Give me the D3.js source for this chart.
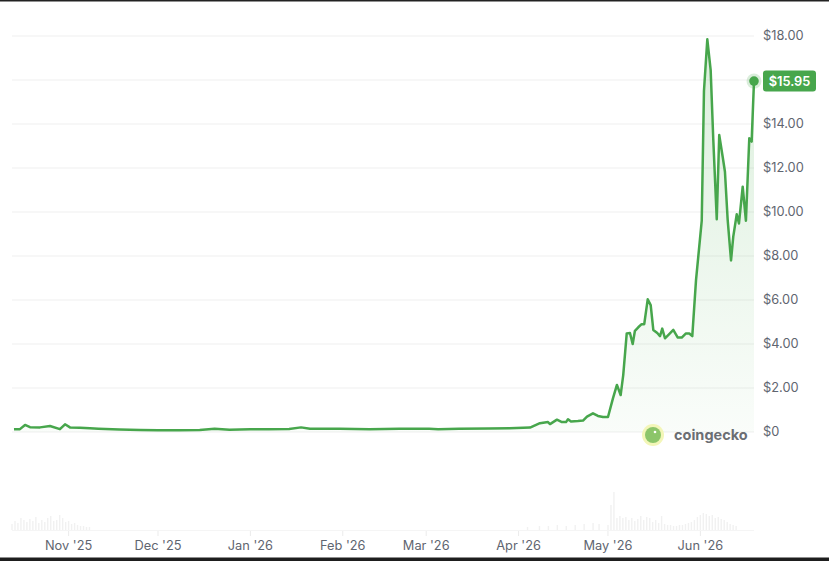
<!DOCTYPE html>
<html><head><meta charset="utf-8">
<script src="https://cdn.jsdelivr.net/npm/d3@7"></script>
<style>html,body{margin:0;padding:0;background:#fff;overflow:hidden}svg{display:block}</style>
</head><body>
<svg id="chart" width="829" height="561"></svg>
<script>
// ---------- DATA ----------
const priceDates = [
"2025-10-13T16","2025-10-15T16","2025-10-17T09","2025-10-19T01","2025-10-22T10","2025-10-25T18","2025-10-29T02","2025-10-30T19",
"2025-11-01T11","2025-11-04T19","2025-11-08T04","2025-11-11T00","2025-11-18T00","2025-11-25T00","2025-12-01T00","2025-12-08T00",
"2025-12-15T00","2025-12-20T00","2025-12-25T00","2026-01-01T00","2026-01-07T00","2026-01-14T00","2026-01-18T00","2026-01-21T00",
"2026-01-31T00","2026-02-10T00","2026-02-20T00","2026-03-02T00","2026-03-05T00","2026-03-12T00","2026-03-22T00","2026-03-29T00",
"2026-04-04T20","2026-04-08T04","2026-04-10T21","2026-04-11T13","2026-04-13T21","2026-04-15T13","2026-04-16T22","2026-04-17T14",
"2026-04-18T14","2026-04-20T22","2026-04-22T15","2026-04-23T23","2026-04-25T23","2026-04-27T15","2026-04-29T08","2026-05-01T00",
"2026-05-02T16","2026-05-04T00","2026-05-05T06","2026-05-06T03","2026-05-07T07","2026-05-08T09","2026-05-09T07","2026-05-10T01",
"2026-05-11T04","2026-05-12T07","2026-05-13T04","2026-05-14T08","2026-05-15T08","2026-05-16T05","2026-05-17T13","2026-05-18T11",
"2026-05-19T05","2026-05-20T03","2026-05-21T11","2026-05-22T22","2026-05-24T09","2026-05-25T18","2026-05-27T04","2026-05-28T07",
"2026-05-29T07","2026-05-30T13","2026-06-01T11","2026-06-02T05","2026-06-03T08","2026-06-04T11","2026-06-05T08","2026-06-06T12",
"2026-06-07T08","2026-06-08T12","2026-06-09T06","2026-06-10T04","2026-06-11T07","2026-06-12T01","2026-06-13T05","2026-06-13T23",
"2026-06-15T05","2026-06-16T07","2026-06-17T10","2026-06-18T05","2026-06-19T00"
];
const priceValues = [
0.12,0.13,0.32,0.22,0.21,0.27,0.13,0.35,
0.21,0.19,0.17,0.15,0.11,0.09,0.08,0.08,
0.09,0.15,0.10,0.12,0.13,0.14,0.21,0.15,
0.15,0.13,0.15,0.15,0.13,0.15,0.16,0.17,
0.20,0.40,0.45,0.36,0.56,0.45,0.45,0.58,
0.48,0.50,0.52,0.70,0.85,0.73,0.68,0.68,
1.53,2.14,1.68,2.60,4.48,4.50,4.00,4.60,
4.76,4.90,4.90,6.03,5.77,4.64,4.50,4.36,
4.70,4.26,4.44,4.64,4.30,4.29,4.48,4.48,
4.36,6.90,9.60,15.50,17.85,16.45,13.30,9.67,
13.50,12.50,11.83,9.64,7.80,8.88,9.90,9.48,
11.15,9.60,13.35,13.20,15.95
];
const volumeDates = [
"2025-10-13","2025-10-14","2025-10-15","2025-10-16","2025-10-17","2025-10-18","2025-10-19","2025-10-20","2025-10-21",
"2025-10-22","2025-10-23","2025-10-24","2025-10-25","2025-10-26","2025-10-27","2025-10-28","2025-10-29","2025-10-30",
"2025-10-31","2025-11-01","2025-11-02","2025-11-03","2025-11-04","2025-11-05","2025-11-06","2025-11-07","2025-11-08",
"2026-04-04","2026-04-08","2026-04-11","2026-04-14","2026-04-17","2026-04-20","2026-04-23","2026-04-26","2026-04-28",
"2026-05-01","2026-05-02","2026-05-03","2026-05-04","2026-05-05","2026-05-06","2026-05-07","2026-05-08","2026-05-09",
"2026-05-10","2026-05-11","2026-05-12","2026-05-13","2026-05-14","2026-05-15","2026-05-16","2026-05-17","2026-05-18",
"2026-05-19","2026-05-20","2026-05-21","2026-05-22","2026-05-23","2026-05-24","2026-05-25","2026-05-26","2026-05-27",
"2026-05-28","2026-05-29","2026-05-30","2026-05-31","2026-06-01","2026-06-02","2026-06-03","2026-06-04","2026-06-05",
"2026-06-06","2026-06-07","2026-06-08","2026-06-09","2026-06-10","2026-06-11","2026-06-12","2026-06-13"
];
const volumeValues = [
0.6,0.9,0.7,1.2,1.0,0.8,1.1,0.9,1.3,
0.7,1.0,0.8,1.2,1.4,0.9,1.0,1.5,1.2,
0.8,0.9,0.6,0.7,0.5,0.4,0.4,0.3,0.3,
0.3,0.4,0.4,0.5,0.4,0.5,0.6,0.7,0.6,
0.5,2.5,3.8,1.2,1.4,1.2,1.3,1.0,1.2,
0.9,1.1,1.4,1.0,1.3,1.2,0.8,1.0,0.7,
1.4,0.6,0.5,0.5,0.4,0.4,0.5,0.5,0.6,
0.7,0.8,1.0,1.3,1.5,1.7,1.6,1.4,1.5,
1.2,1.3,1.1,1.0,0.8,0.6,0.5,0.4
];
const yTickValues = [0,2,4,6,8,10,12,14,16,18];
const monthTickDates = ["2025-11-01","2025-12-01","2026-01-01","2026-02-01","2026-03-01","2026-04-01","2026-05-01","2026-06-01"];
const monthTickLabels = ["Nov '25","Dec '25","Jan '26","Feb '26","Mar '26","Apr '26","May '26","Jun '26"];
const lastPrice = 15.95;
const brandName = "coingecko";

// ---------- CHART ----------
const parseH = d3.timeParse("%Y-%m-%dT%H");
const parseD = d3.timeParse("%Y-%m-%d");
const price = priceDates.map((d,i)=>({date:parseH(d), v:priceValues[i]}));
const volume = volumeDates.map((d,i)=>({date:parseD(d), v:volumeValues[i]}));

const svg = d3.select("#chart");
const green = "#47a64c";
const textCol = "#5f6570";
const font = "Inter, 'Noto Sans', sans-serif";

const x = d3.scaleTime()
  .domain([parseH("2025-10-13T00"), parseH("2026-06-19T00")])
  .range([12, 754]);
const y = d3.scaleLinear().domain([0,18]).range([432,36]);
const yv = d3.scaleLinear().domain([0,4]).range([530,490]);

// black frame bands
svg.append("rect").attr("x",0).attr("y",0).attr("width",829).attr("height",1.5).attr("fill","#222");
svg.append("rect").attr("x",0).attr("y",557.5).attr("width",829).attr("height",3.5).attr("fill","#1e1e1e");

// gridlines
svg.append("g").selectAll("line").data(yTickValues).join("line")
  .attr("x1",12).attr("x2",754)
  .attr("y1",d=>y(d)).attr("y2",d=>y(d))
  .attr("stroke","#efefef").attr("stroke-width",1.2);

// y labels (right)
svg.append("g").selectAll("text").data(yTickValues.filter(d=>d!==16)).join("text")
  .attr("x",763).attr("y",d=>y(d)).attr("dy","0.35em")
  .attr("font-family",font).attr("font-size",12.8).attr("fill",textCol)
  .text(d=> d===0 ? "$0" : "$"+d.toFixed(2));

// volume bars
svg.append("g").selectAll("rect").data(volume).join("rect")
  .attr("x",d=>x(d.date)-0.7).attr("width",1.4)
  .attr("y",d=>yv(d.v)).attr("height",d=>yv(0)-yv(d.v))
  .attr("fill","#f1f1f1");
svg.append("line").attr("x1",12).attr("x2",754).attr("y1",530.5).attr("y2",530.5)
  .attr("stroke","#f5f5f5");

// month ticks + labels
const months = monthTickDates.map(parseD);
svg.append("g").selectAll("line").data(months).join("line")
  .attr("x1",d=>x(d)).attr("x2",d=>x(d)).attr("y1",531).attr("y2",536)
  .attr("stroke","#ebebeb");
svg.append("g").selectAll("text").data(months).join("text")
  .attr("x",d=>x(d)).attr("y",550).attr("text-anchor","middle")
  .attr("font-family",font).attr("font-size",12.8).attr("fill",textCol)
  .text((d,i)=>monthTickLabels[i]);

// area gradient
const defs = svg.append("defs");
const grad = defs.append("linearGradient").attr("id","ag")
  .attr("gradientUnits","userSpaceOnUse").attr("x1",0).attr("x2",0).attr("y1",y(18)).attr("y2",y(0));
grad.append("stop").attr("offset","0%").attr("stop-color","#4caf50").attr("stop-opacity",0.2);
grad.append("stop").attr("offset","100%").attr("stop-color","#4caf50").attr("stop-opacity",0.03);

svg.append("path").datum(price)
  .attr("d", d3.area().x(d=>x(d.date)).y0(y(0)).y1(d=>y(d.v)))
  .attr("fill","url(#ag)");

// logo watermark
const lg = svg.append("g").attr("transform","translate(653,435)");
lg.append("circle").attr("r",11).attr("fill","#f3f6b8");
lg.append("circle").attr("r",8).attr("fill","#8cc56a");
lg.append("circle").attr("cx",2).attr("cy",-3).attr("r",1.3).attr("fill","#fff");
svg.append("text").attr("x",674).attr("y",440)
  .attr("font-family",font).attr("font-weight",700).attr("font-size",14.5)
  .attr("fill","#6b6e73").text(brandName);

// price line
svg.append("path").datum(price)
  .attr("d", d3.line().x(d=>x(d.date)).y(d=>y(d.v)))
  .attr("fill","none").attr("stroke",green).attr("stroke-width",2.5)
  .attr("stroke-linejoin","round");

// last point marker
const last = price[price.length-1];
svg.append("circle").attr("cx",x(last.date)).attr("cy",y(last.v)).attr("r",7.5)
  .attr("fill",green).attr("opacity",0.2);
svg.append("circle").attr("cx",x(last.date)).attr("cy",y(last.v)).attr("r",4.8)
  .attr("fill",green);

// last price label
const ly = y(lastPrice);
svg.append("rect").attr("x",763).attr("y",ly-10.5).attr("width",53).attr("height",21)
  .attr("rx",3).attr("fill",green);
svg.append("text").attr("x",789.5).attr("y",ly).attr("dy","0.36em").attr("text-anchor","middle")
  .attr("font-family",font).attr("font-weight",600).attr("font-size",12.8).attr("fill","#fff")
  .text("$"+lastPrice.toFixed(2));
</script>
</body></html>
